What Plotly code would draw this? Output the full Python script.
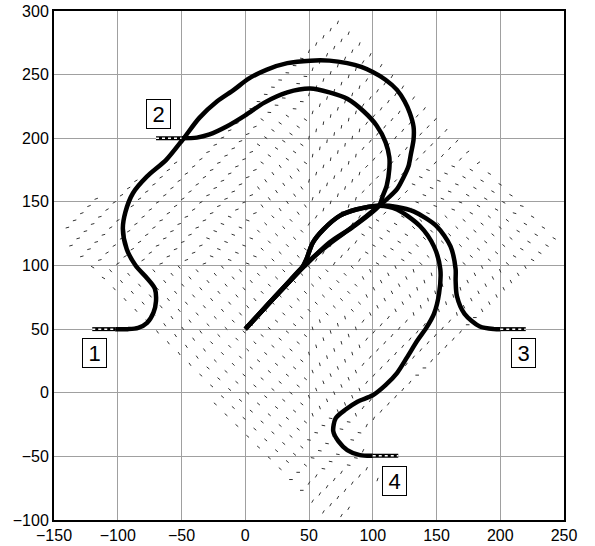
import numpy as np
import plotly.graph_objects as go

# robot paths, each from its start marker to the goal at (0, 50)
PATH1_X = [-102, -92, -84, -77, -72, -70, -71, -77, -86, -93, -96, -94, -88, -77, -62, -49, -36, -22, -9,
           3, 17, 33, 51, 66, 80, 91, 100, 110, 119, 125, 129, 132, 132, 130, 128, 124, 119, 112, 105,
           85, 66, 45, 23, 1]
PATH1_Y = [50, 50, 51, 55, 63, 72, 82, 90, 100, 113, 129, 142, 157, 170, 183, 199, 216, 229, 238,
           247, 254, 259, 261, 261, 259, 256, 252, 246, 238, 229, 220, 209, 199, 188, 178, 169, 160, 153, 147,
           131, 117, 99, 75, 51]

PATH2_X = [-50, -38, -28, -15, 0, 15, 33, 51, 66, 80, 93, 103, 110, 113, 113, 111, 108, 105,
           84, 66, 46, 22, 0]
PATH2_Y = [200, 200.5, 203, 209, 218, 228, 236, 239, 236, 231, 221, 210, 197, 185, 176, 163, 155, 147,
           130, 118, 99, 74, 50]

PATH3_X = [200, 195, 184, 172, 166, 165, 165, 161, 150, 132, 119, 105, 87, 74, 61, 53, 48, 45, 22, 0]
PATH3_Y = [50, 50, 52, 62, 76, 88, 97, 115, 131, 142.5, 146, 147, 144, 139, 128, 118, 105, 99, 74, 50]

PATH4_X = [100, 90, 80, 73, 69, 71, 79, 88, 100, 110, 119, 127, 135, 142, 148, 152, 153, 148, 137, 119,
           105, 87, 74, 61, 53, 48, 45, 23, 1]
PATH4_Y = [-49.5, -49, -45, -38, -30, -20, -13, -7, -2, 6, 15.5, 28, 41, 51, 62, 78, 97, 115, 131, 144,
           147, 144, 139, 128, 118, 105, 99, 75, 51]

# hatched start markers
START_X = [[-120, -102], [-70, -50], [200, 220], [100, 120]]
START_Y = [[50, 50], [200, 200], [50, 50], [-49.5, -49.5]]

LABELS = ["1", "2", "3", "4"]
LABEL_X = [-118, -68, 218, 117]
LABEL_Y = [31, 219, 31, -69]

# vector field: outline of the sampled region and a coarse orientation table (degrees),
# one value per 40x40 cell, top row first
FIELD_EDGE_X = [-147, -118, -75, -46, -15, -4, 4, 48, 72, 246, 127, 93, 104, 88, 80, 62]
FIELD_EDGE_Y = [122, 155, 172, 187, 208, 223, 234, 276, 300, 122, 0, -35, -68, -82, -100, -100]
CELL_LEFT = [-150, -110, -70, -30, 10, 50, 90, 130, 170, 210]
CELL_TOP = [300, 260, 220, 180, 140, 100, 60, 20, -20, -60]
FIELD_ANGLES = [
    [0, 0, 0, 0, -10, 70, 65, 0, 0, 0],
    [0, 0, 0, -10, -5, 75, 60, 55, 0, 0],
    [0, 0, 30, 20, -35, 80, 55, 50, 35, 0],
    [20, 30, 30, 20, -55, 75, 45, -20, -30, -15],
    [15, 30, 20, -20, -45, 60, -30, -45, -40, -30],
    [-30, -50, -50, -50, -45, -45, -65, -75, -65, -60],
    [0, -60, -55, -45, -40, -75, 55, 55, 0, 0],
    [0, 0, -40, -40, -40, -70, 55, 0, 0, 0],
    [0, 0, 0, -40, -40, -10, 65, 0, 0, 0],
    [0, 0, 0, 0, 0, 60, 70, 0, 0, 0],
]


def inside(px, py, xs, ys):
    hit = False
    n = len(xs)
    for i in range(n):
        x1, y1, x2, y2 = xs[i], ys[i], xs[(i + 1) % n], ys[(i + 1) % n]
        if (y1 > py) != (y2 > py) and px < x1 + (py - y1) * (x2 - x1) / (y2 - y1):
            hit = not hit
    return hit


def field_segments():
    c = np.sqrt(0.5)
    qx, qy = [], []
    for a in np.arange(-320, 320, 8.0):
        for b in np.arange(-320, 320, 12.0):
            x = 50 + (a - b) * c
            y = 110 + (a + b) * c
            if not (-150 < x < 250 and -100 < y < 300):
                continue
            if not inside(x, y, FIELD_EDGE_X, FIELD_EDGE_Y):
                continue
            col = min(int((x - CELL_LEFT[0]) // 40), 9)
            row = min(int((CELL_TOP[0] - y) // 40), 9)
            t = np.radians(FIELD_ANGLES[row][col])
            dx, dy = 1.4 * np.cos(t), 1.4 * np.sin(t)
            qx += [x - dx, x + dx, None]
            qy += [y - dy, y + dy, None]
    return qx, qy


fig = go.Figure()

qx, qy = field_segments()
fig.add_trace(go.Scatter(x=qx, y=qy, mode="lines", line=dict(color="#333333", width=1),
                         hoverinfo="skip"))

for px, py in [(PATH1_X, PATH1_Y), (PATH2_X, PATH2_Y), (PATH3_X, PATH3_Y), (PATH4_X, PATH4_Y)]:
    fig.add_trace(go.Scatter(x=px, y=py, mode="lines",
                             line=dict(color="black", width=4.5, shape="spline", smoothing=0.8)))

for sx, sy in zip(START_X, START_Y):
    fig.add_trace(go.Scatter(x=sx, y=sy, mode="lines", line=dict(color="black", width=4)))
    fig.add_trace(go.Scatter(x=sx, y=sy, mode="lines", line=dict(color="white", width=1.5, dash="dot")))

for t, lx, ly in zip(LABELS, LABEL_X, LABEL_Y):
    fig.add_annotation(x=lx, y=ly, text=t, showarrow=False, font=dict(size=22, color="black"),
                       bordercolor="black", borderwidth=1, borderpad=1, bgcolor="white",
                       width=21, height=26)

axis = dict(showgrid=True, gridcolor="#a0a0a0", gridwidth=1, zeroline=False, automargin=False,
            showline=True, linecolor="black", linewidth=2, mirror=True, ticks="",
            tickfont=dict(size=16, color="black"), dtick=50)
fig.update_xaxes(range=[-150, 250], tick0=-150, **axis)
fig.update_yaxes(range=[-100, 300], tick0=-100, **axis)
fig.update_layout(
    width=595, height=546,
    margin=dict(l=54, r=31, t=11, b=26),
    showlegend=False,
    plot_bgcolor="white", paper_bgcolor="white",
    font=dict(family="Arial, Liberation Sans, sans-serif", color="black"),
)
# the page's default 8px body margin would push the figure off the window
fig.write_html("out.html", config={"displayModeBar": False},
               post_script="document.body.style.margin = '0px';")
